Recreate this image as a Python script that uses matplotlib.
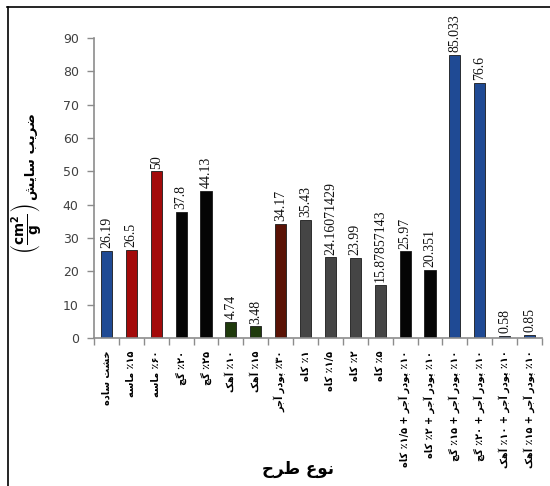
import matplotlib
matplotlib.use('Agg')
import matplotlib.pyplot as plt
from matplotlib.lines import Line2D

# داده‌ها
categories = [
    'خشت ساده', '٪۱۵ ماسه', '٪۶۰ ماسه', '٪۲۰ گچ', '٪۲۵ گچ',
    '٪۱۰ آهک', '٪۱۵ آهک', '٪۳۰ پودر آجر', '٪۱ کاه', '٪۱/۵ کاه',
    '٪۲ کاه', '٪۵ کاه',
    '٪۱۰ پودر آجر + ٪۱/۵ کاه', '٪۱۰ پودر آجر + ٪۲ کاه',
    '٪۱۰ پودر آجر + ٪۱۵ گچ', '٪۱۰ پودر آجر + ٪۲۰ گچ',
    '٪۱۰ پودر آجر + ٪۱۰ آهک', '٪۱۰ پودر آجر + ٪۱۵ آهک',
]
values = [26.19, 26.5, 50, 37.8, 44.13, 4.74, 3.48, 34.17, 35.43,
          24.16071429, 23.99, 15.87857143, 25.97, 20.351, 85.033, 76.6,
          0.58, 0.85]
groups = ['base', 'sand', 'sand', 'gypsum', 'gypsum', 'lime', 'lime', 'brick',
          'straw', 'straw', 'straw', 'straw', 'mix', 'mix',
          'base', 'base', 'base', 'base']
yticks = [0, 10, 20, 30, 40, 50, 60, 70, 80, 90]
x_title = 'نوع طرح'
y_title = 'ضریب سایش'

group_colors = {
    'base': '#1f4a94', 'sand': '#a30a0a', 'gypsum': '#050505',
    'lime': '#1f3a0c', 'brick': '#5a1205', 'straw': '#454545', 'mix': '#050505',
}

# شکل‌دهی ساده حروف فارسی (matplotlib خودش این کار را نمی‌کند)
FORMS = {
    'ا': ('\uFE8D', '\uFE8E', None, None),
    'آ': ('\uFE81', '\uFE82', None, None),
    'ب': ('\uFE8F', '\uFE90', '\uFE91', '\uFE92'),
    'پ': ('\uFB56', '\uFB57', '\uFB58', '\uFB59'),
    'ت': ('\uFE95', '\uFE96', '\uFE97', '\uFE98'),
    'ج': ('\uFE9D', '\uFE9E', '\uFE9F', '\uFEA0'),
    'چ': ('\uFB7A', '\uFB7B', '\uFB7C', '\uFB7D'),
    'ح': ('\uFEA1', '\uFEA2', '\uFEA3', '\uFEA4'),
    'خ': ('\uFEA5', '\uFEA6', '\uFEA7', '\uFEA8'),
    'د': ('\uFEA9', '\uFEAA', None, None),
    'ر': ('\uFEAD', '\uFEAE', None, None),
    'س': ('\uFEB1', '\uFEB2', '\uFEB3', '\uFEB4'),
    'ش': ('\uFEB5', '\uFEB6', '\uFEB7', '\uFEB8'),
    'ض': ('\uFEBD', '\uFEBE', '\uFEBF', '\uFEC0'),
    'ط': ('\uFEC1', '\uFEC2', '\uFEC3', '\uFEC4'),
    'ع': ('\uFEC9', '\uFECA', '\uFECB', '\uFECC'),
    'ک': ('\uFB8E', '\uFB8F', '\uFB90', '\uFB91'),
    'گ': ('\uFB92', '\uFB93', '\uFB94', '\uFB95'),
    'م': ('\uFEE1', '\uFEE2', '\uFEE3', '\uFEE4'),
    'ن': ('\uFEE5', '\uFEE6', '\uFEE7', '\uFEE8'),
    'ه': ('\uFEE9', '\uFEEA', '\uFEEB', '\uFEEC'),
    'و': ('\uFEED', '\uFEEE', None, None),
    'ی': ('\uFBFC', '\uFBFD', '\uFBFE', '\uFBFF'),
}
NUMERIC = set('۰۱۲۳۴۵۶۷۸۹٪/.')


def shape(text):
    out = []
    for i, c in enumerate(text):
        if c not in FORMS:
            out.append(c)
            continue
        prev = text[i - 1] if i > 0 else ''
        nxt = text[i + 1] if i + 1 < len(text) else ''
        join_prev = prev in FORMS and FORMS[prev][2] is not None
        join_next = nxt in FORMS and FORMS[c][2] is not None
        iso, fin, ini, med = FORMS[c]
        if join_prev and join_next:
            out.append(med)
        elif join_prev:
            out.append(fin)
        elif join_next:
            out.append(ini)
        else:
            out.append(iso)
    # ترتیب نمایشی راست به چپ، اعداد چپ به راست
    tokens = []
    for c in out:
        if c in NUMERIC and tokens and tokens[-1][0] in NUMERIC:
            tokens[-1] += c
        else:
            tokens.append(c)
    return ''.join(reversed(tokens))


fig = plt.figure(figsize=(5.5, 4.86), dpi=100)
ax = fig.add_axes([94 / 550, 1 - 338 / 486, 448 / 550, 300 / 486])

x = list(range(len(values)))
colors = [group_colors[g] for g in groups]
bars = ax.bar(x, values, width=0.45, color=colors, edgecolor='#1a1a1a',
              linewidth=0.6)

for xi, v in zip(x, values):
    ax.annotate(f'{v:.10g}', (xi, v), xytext=(0, 2), textcoords='offset points',
                rotation=90, ha='center', va='bottom', fontsize=10,
                family='Liberation Serif', color='#111111',
                annotation_clip=False)

ax.set_xlim(-0.5, len(values) - 0.5)
ax.set_ylim(0, 90)
ax.set_yticks(yticks)
ax.tick_params(axis='y', length=5, width=1, color='#8c8c8c', pad=6,
               labelsize=9, labelcolor='#404040')

ax.set_xticks(x)
ax.set_xticklabels([shape(c) for c in categories], rotation=90,
                   fontsize=7, fontweight='bold', family='DejaVu Sans')
ax.tick_params(axis='x', which='major', length=0, pad=9)
ax.set_xticks([i - 0.5 for i in range(len(values) + 1)], minor=True)
ax.tick_params(axis='x', which='minor', length=5, width=1, color='#8c8c8c')

for s in ['top', 'right']:
    ax.spines[s].set_visible(False)
for s in ['left', 'bottom']:
    ax.spines[s].set_color('#8c8c8c')
    ax.spines[s].set_linewidth(1.2)

# عنوان محورها
fig.text(298 / 550, 1 - 469 / 486, shape(x_title), ha='center', va='center',
         fontsize=12, fontweight='bold', family='DejaVu Sans')
fig.text(31 / 550, 1 - 157 / 486, shape(y_title), ha='center', va='center',
         rotation=90, fontsize=9.5, fontweight='bold', family='DejaVu Sans')
fig.text(26 / 550, 1 - 229 / 486, r'$\left(\frac{\mathbf{cm^2}}{\mathbf{g}}\right)$',
         ha='center', va='center', rotation=90, fontsize=14)

# قاب دور شکل
fig.add_artist(Line2D([7 / 550, 1], [1 - 7 / 486, 1 - 7 / 486], color='black',
                      linewidth=1.2, transform=fig.transFigure))
fig.add_artist(Line2D([7.5 / 550, 7.5 / 550], [0, 1 - 7 / 486], color='black',
                      linewidth=1.2, transform=fig.transFigure))

fig.savefig('out.png', dpi=100)
